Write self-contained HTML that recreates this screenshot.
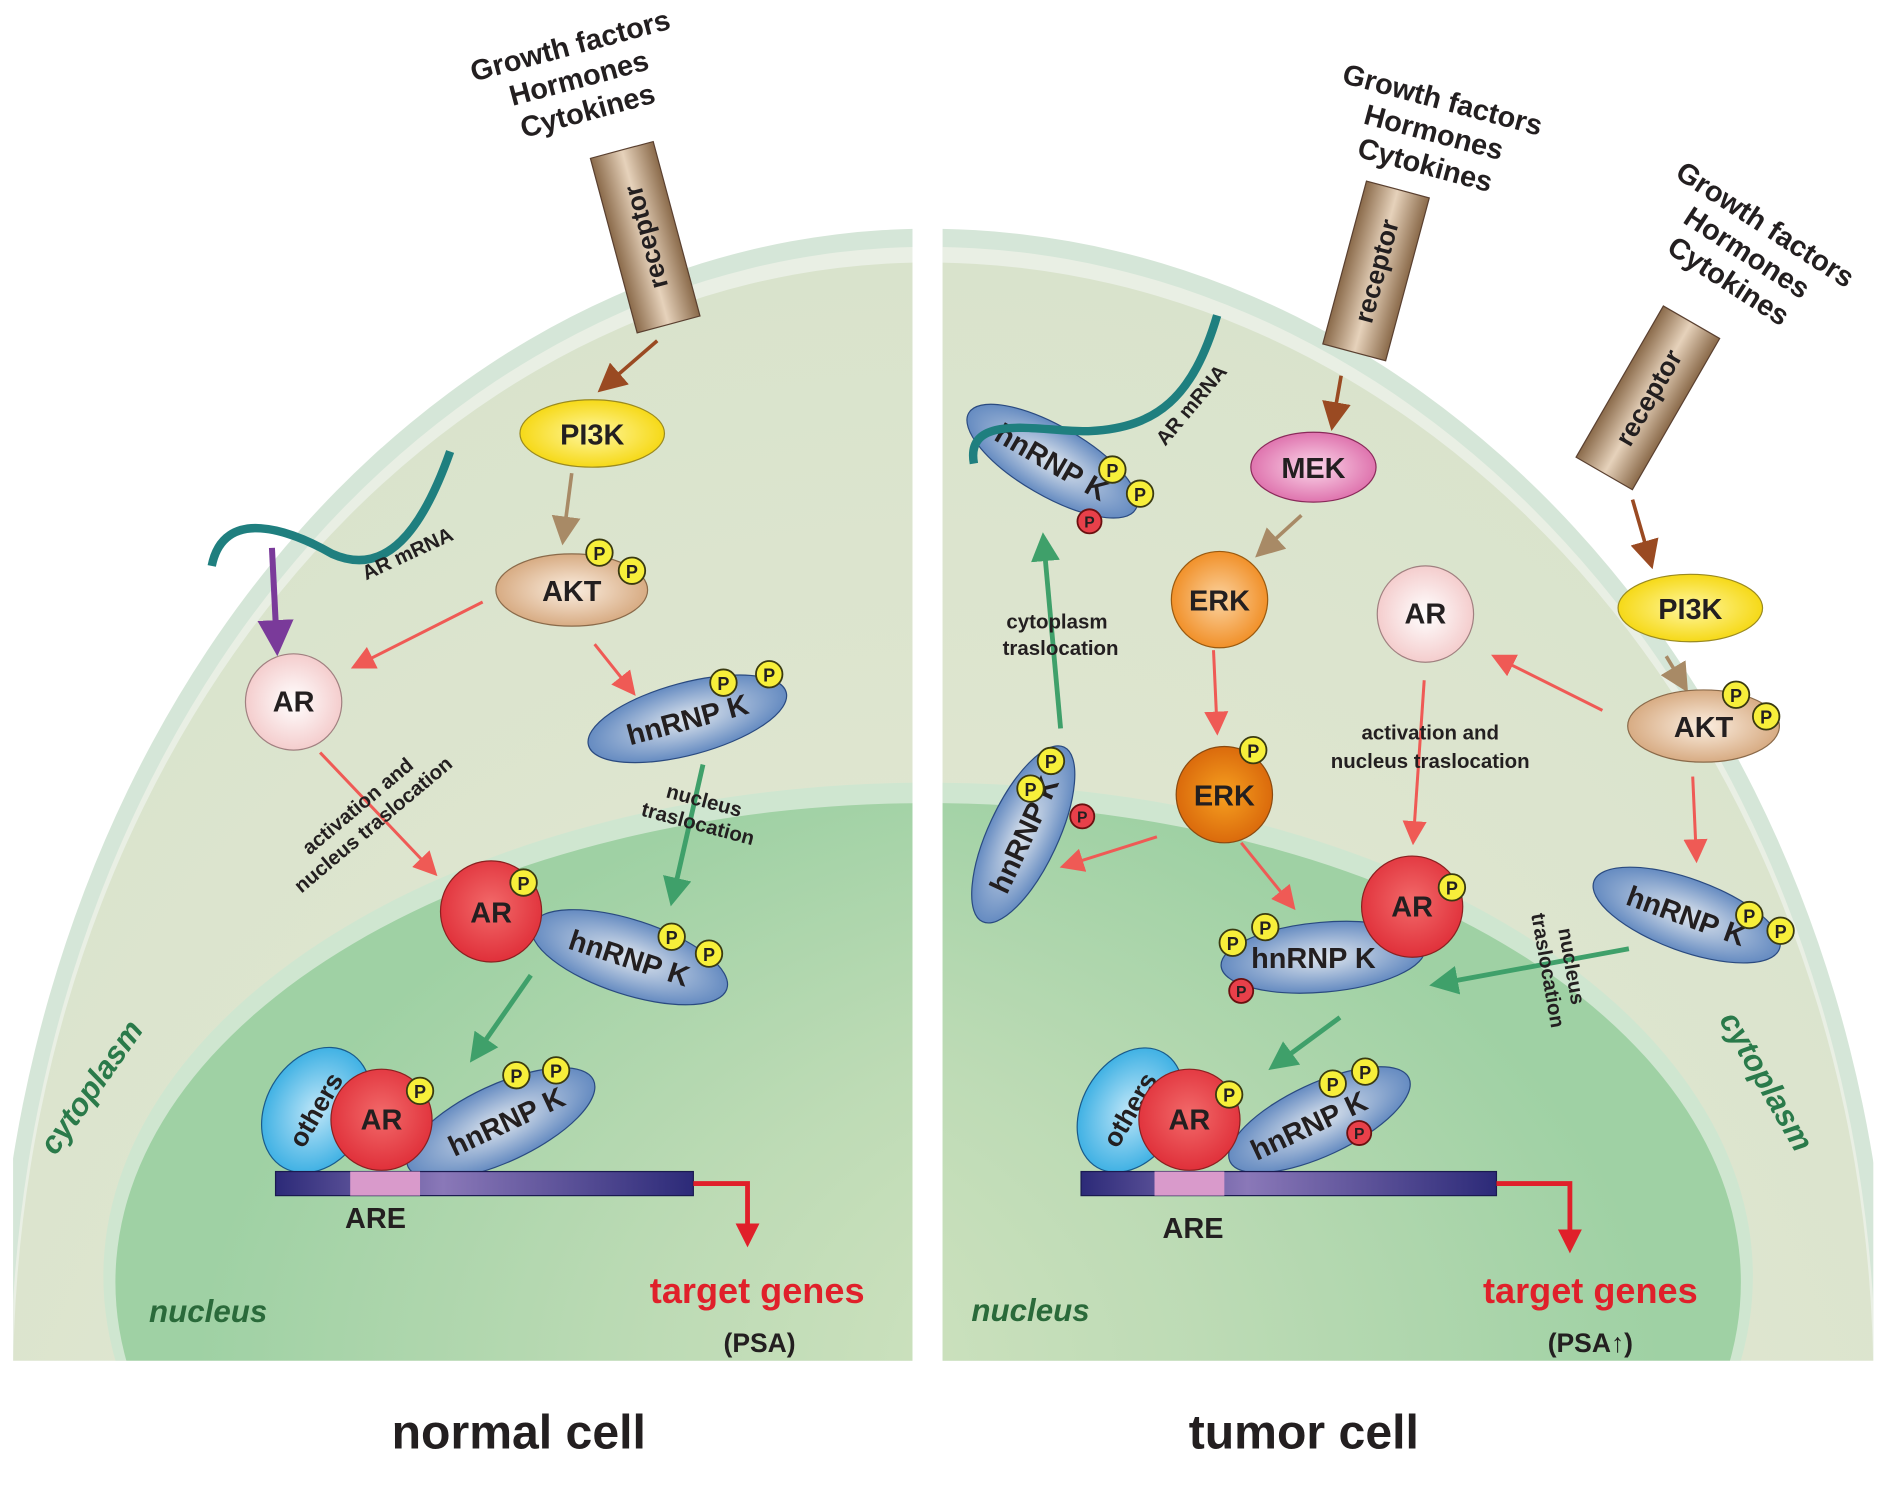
<!DOCTYPE html>
<html><head><meta charset="utf-8"><style>
html,body{margin:0;padding:0;background:#fff;overflow:hidden;width:1890px;height:1487px;}
#w{position:relative;width:1890px;height:1487px;overflow:hidden;}
svg{display:block;position:absolute;left:0;top:0;}
text{font-family:"Liberation Sans",Arial,sans-serif;font-weight:bold;fill:#231f20;}
</style></head><body><div id="w">
<svg width="1890" height="1487" viewBox="0 0 1568 1235" xmlns="http://www.w3.org/2000/svg">
<defs>
<radialGradient id="cyt" cx="0.5" cy="0.7" r="0.7"><stop offset="0" stop-color="#e8ead6"/><stop offset="1" stop-color="#d9e3cc"/></radialGradient>
<radialGradient id="nucL" cx="0.75" cy="0.6" r="0.7"><stop offset="0" stop-color="#dfe8c8"/><stop offset="0.6" stop-color="#bddbb5"/><stop offset="1" stop-color="#9fd1a4"/></radialGradient>
<radialGradient id="nucR" cx="0.25" cy="0.6" r="0.7"><stop offset="0" stop-color="#dfe8c8"/><stop offset="0.6" stop-color="#bddbb5"/><stop offset="1" stop-color="#9fd1a4"/></radialGradient>
<radialGradient id="blue" cx="0.5" cy="0.5" r="0.6"><stop offset="0" stop-color="#dfe6ee"/><stop offset="1" stop-color="#4d79b8"/></radialGradient>
<radialGradient id="red" cx="0.5" cy="0.45" r="0.55"><stop offset="0" stop-color="#f26a6a"/><stop offset="1" stop-color="#e0303a"/></radialGradient>
<radialGradient id="pale" cx="0.5" cy="0.5" r="0.55"><stop offset="0" stop-color="#fff"/><stop offset="1" stop-color="#f3c8c8"/></radialGradient>
<radialGradient id="yel" cx="0.5" cy="0.5" r="0.55"><stop offset="0" stop-color="#fff7a0"/><stop offset="1" stop-color="#f5d60a"/></radialGradient>
<radialGradient id="tan" cx="0.5" cy="0.5" r="0.55"><stop offset="0" stop-color="#fbeee0"/><stop offset="1" stop-color="#d4a57a"/></radialGradient>
<radialGradient id="pink" cx="0.5" cy="0.5" r="0.55"><stop offset="0" stop-color="#fbd7ea"/><stop offset="1" stop-color="#dc6aa8"/></radialGradient>
<radialGradient id="org" cx="0.5" cy="0.5" r="0.55"><stop offset="0" stop-color="#fbd3a0"/><stop offset="1" stop-color="#f08a1e"/></radialGradient>
<radialGradient id="dorg" cx="0.5" cy="0.5" r="0.55"><stop offset="0" stop-color="#f6a020"/><stop offset="1" stop-color="#d8650a"/></radialGradient>
<radialGradient id="oth" cx="0.5" cy="0.5" r="0.6"><stop offset="0" stop-color="#bfe6f8"/><stop offset="1" stop-color="#27a7e0"/></radialGradient>
<linearGradient id="rec" x1="0" x2="1"><stop offset="0" stop-color="#8a6a4a"/><stop offset="0.5" stop-color="#e6d2bb"/><stop offset="1" stop-color="#8a6a4a"/></linearGradient>
<linearGradient id="dna" x1="0" x2="1"><stop offset="0" stop-color="#2c2a78"/><stop offset="0.4" stop-color="#8a78b8"/><stop offset="1" stop-color="#2c2a78"/></linearGradient>
<marker id="aR" markerWidth="8" markerHeight="8" refX="6" refY="4" orient="auto" markerUnits="strokeWidth"><path d="M0,0 L8,4 L0,8 z" fill="#ef5a55"/></marker>
<marker id="aG" markerWidth="6" markerHeight="6" refX="4" refY="3" orient="auto" markerUnits="strokeWidth"><path d="M0,0 L6,3 L0,6 z" fill="#3fa06a"/></marker>
<marker id="aB" markerWidth="8" markerHeight="8" refX="6" refY="4" orient="auto" markerUnits="strokeWidth"><path d="M0,0 L8,4 L0,8 z" fill="#9a4a22"/></marker>
<marker id="aT" markerWidth="8" markerHeight="8" refX="6" refY="4" orient="auto" markerUnits="strokeWidth"><path d="M0,0 L8,4 L0,8 z" fill="#a88a66"/></marker>
<marker id="aP" markerWidth="6" markerHeight="6" refX="4" refY="3" orient="auto" markerUnits="strokeWidth"><path d="M0,0 L6,3 L0,6 z" fill="#7a3a9a"/></marker>
<marker id="aD" markerWidth="5" markerHeight="5" refX="3" refY="2.5" orient="auto" markerUnits="strokeWidth"><path d="M0,0 L5,2.5 L0,5 z" fill="#e0202a"/></marker>
<clipPath id="cL"><rect x="10" y="0" width="747" height="1130"/></clipPath>
<clipPath id="cR"><rect x="782" y="0" width="773" height="1130"/></clipPath>
</defs>

<g clip-path="url(#cL)">
<rect x="10" y="0" width="747" height="1130" fill="#fff"/>
<ellipse cx="770" cy="1150" rx="775" ry="960" fill="#d5e6d8"/>
<ellipse cx="770" cy="1150" rx="762" ry="945" fill="#e9efe4"/>
<ellipse cx="770" cy="1150" rx="760" ry="932" fill="url(#cyt)"/>
<ellipse cx="770" cy="1060" rx="685" ry="410" fill="#cfe6d0"/>
<ellipse cx="770" cy="1065" rx="675" ry="398" fill="url(#nucL)"/>
</g>
<g clip-path="url(#cR)">
<rect x="782" y="0" width="773" height="1130" fill="#fff"/>
<ellipse cx="770" cy="1150" rx="800" ry="960" fill="#d5e6d8"/>
<ellipse cx="770" cy="1150" rx="787" ry="945" fill="#e9efe4"/>
<ellipse cx="770" cy="1150" rx="785" ry="932" fill="url(#cyt)"/>
<ellipse cx="770" cy="1060" rx="685" ry="410" fill="#cfe6d0"/>
<ellipse cx="770" cy="1065" rx="675" ry="398" fill="url(#nucR)"/>
</g>

<g transform="rotate(-15 480 65)" font-size="24" text-anchor="middle">
<text x="480" y="45">Growth factors</text><text x="480" y="73">Hormones</text><text x="480" y="101">Cytokines</text></g>
<g transform="rotate(-15 535 197)"><rect x="508" y="122" width="54" height="150" fill="url(#rec)" stroke="#5a4030"/>
<text x="535" y="197" font-size="22" text-anchor="middle" transform="rotate(-90 535 197)" dy="8">receptor</text></g>
<line x1="545" y1="283" x2="500" y2="322" stroke="#9a4a22" stroke-width="3" marker-end="url(#aB)"/>
<ellipse cx="491" cy="360" rx="60" ry="28" fill="url(#yel)" stroke="#9a8a20"/><text x="491" y="369" font-size="24" text-anchor="middle">PI3K</text>
<line x1="474" y1="393" x2="467" y2="447" stroke="#a88a66" stroke-width="3" marker-end="url(#aT)"/>
<ellipse cx="474" cy="490" rx="63" ry="30" fill="url(#tan)" stroke="#8a6a4a"/><text x="474" y="499" font-size="24" text-anchor="middle">AKT</text>
<path d="M175,470 C185,420 240,440 275,460 C320,480 350,440 373,375" fill="none" stroke="#1f7f7f" stroke-width="7"/>
<text x="340" y="465" font-size="17" text-anchor="middle" transform="rotate(-25 340 465)">AR mRNA</text>
<line x1="225" y1="455" x2="229" y2="535" stroke="#7a3a9a" stroke-width="5" marker-end="url(#aP)"/>
<line x1="400" y1="500" x2="295" y2="553" stroke="#ef5a55" stroke-width="2.5" marker-end="url(#aR)"/>
<line x1="493" y1="535" x2="524" y2="574" stroke="#ef5a55" stroke-width="2.5" marker-end="url(#aR)"/>
<circle cx="243" cy="583" r="40" fill="url(#pale)" stroke="#a08080"/><text x="243" y="591" font-size="24" text-anchor="middle">AR</text>
<g transform="rotate(-15 570 597)"><ellipse cx="570" cy="597" rx="85" ry="30" fill="url(#blue)" stroke="#2a4a80"/><text x="570" y="606" font-size="24" text-anchor="middle">hnRNP K</text></g>
<line x1="265" y1="625" x2="359" y2="724" stroke="#ef5a55" stroke-width="2.5" marker-end="url(#aR)"/>
<g transform="rotate(-40 305 680)" font-size="17" text-anchor="middle"><text x="305" y="672">activation  and</text><text x="305" y="692">nucleus traslocation</text></g>
<line x1="583" y1="635" x2="558" y2="745" stroke="#3fa06a" stroke-width="4" marker-end="url(#aG)"/>
<g transform="rotate(15 580 680)" font-size="17" text-anchor="middle"><text x="580" y="670">nucleus</text><text x="580" y="690">traslocation</text></g>
<g transform="rotate(18 522 795)"><ellipse cx="522" cy="795" rx="85" ry="31" fill="url(#blue)" stroke="#2a4a80"/><text x="522" y="804" font-size="24" text-anchor="middle">hnRNP K</text></g>
<circle cx="407" cy="757" r="42" fill="url(#red)" stroke="#8a2020"/><text x="407" y="766" font-size="24" text-anchor="middle">AR</text>
<line x1="440" y1="810" x2="394" y2="876" stroke="#3fa06a" stroke-width="4" marker-end="url(#aG)"/>
<g transform="rotate(-60 262 922)"><ellipse cx="262" cy="922" rx="55" ry="42" fill="url(#oth)" stroke="#1a5a8a"/><text x="262" y="929" font-size="22" text-anchor="middle">others</text></g>
<g transform="rotate(-25 415 933)"><ellipse cx="415" cy="933" rx="85" ry="32" fill="url(#blue)" stroke="#2a4a80"/><text x="420" y="942" font-size="24" text-anchor="middle">hnRNP K</text></g>
<circle cx="316" cy="930" r="42" fill="url(#red)" stroke="#8a2020"/><text x="316" y="938" font-size="24" text-anchor="middle">AR</text>
<rect x="228" y="973" width="347" height="20" fill="url(#dna)" stroke="#1a1a50"/><rect x="290" y="973" width="58" height="20" fill="#d99acb"/>
<text x="311" y="1020" font-size="24" text-anchor="middle">ARE</text>
<polyline points="575,983 620,983 620,1028" fill="none" stroke="#e0202a" stroke-width="4" marker-end="url(#aD)"/>
<text x="628" y="1082" font-size="30" text-anchor="middle" style="fill:#e0202a">target genes</text>
<text x="630" y="1123" font-size="22" text-anchor="middle">(PSA)</text>
<text x="78" y="910" font-size="26" text-anchor="middle" font-style="italic" style="fill:#2a7a4a" transform="rotate(-55 78 905)">cytoplasm</text>
<text x="172" y="1098" font-size="26" text-anchor="middle" font-style="italic" style="fill:#2a6a3a">nucleus</text>
<text x="430" y="1203" font-size="40" text-anchor="middle">normal cell</text>

<g transform="rotate(15 1190 110)" font-size="24" text-anchor="middle">
<text x="1190" y="90">Growth factors</text><text x="1190" y="118">Hormones</text><text x="1190" y="146">Cytokines</text></g>
<g transform="rotate(15 1142 225)"><rect x="1115" y="155" width="54" height="140" fill="url(#rec)" stroke="#5a4030"/>
<text x="1142" y="225" font-size="22" text-anchor="middle" transform="rotate(-90 1142 225)" dy="8">receptor</text></g>
<g transform="rotate(33 1450 210)" font-size="24" text-anchor="middle">
<text x="1450" y="190">Growth factors</text><text x="1450" y="218">Hormones</text><text x="1450" y="246">Cytokines</text></g>
<g transform="rotate(30 1368 330)"><rect x="1341" y="258" width="54" height="145" fill="url(#rec)" stroke="#5a4030"/>
<text x="1368" y="330" font-size="22" text-anchor="middle" transform="rotate(-90 1368 330)" dy="8">receptor</text></g>
<line x1="1113" y1="312" x2="1106" y2="352" stroke="#9a4a22" stroke-width="3" marker-end="url(#aB)"/>
<ellipse cx="1090" cy="388" rx="52" ry="29" fill="url(#pink)" stroke="#8a2a5a"/><text x="1090" y="397" font-size="24" text-anchor="middle">MEK</text>
<line x1="1080" y1="428" x2="1046" y2="459" stroke="#a88a66" stroke-width="3" marker-end="url(#aT)"/>
<circle cx="1012" cy="498" r="40" fill="url(#org)" stroke="#9a5a10"/><text x="1012" y="507" font-size="24" text-anchor="middle">ERK</text>
<line x1="1007" y1="540" x2="1010" y2="606" stroke="#ef5a55" stroke-width="2.5" marker-end="url(#aR)"/>
<circle cx="1016" cy="660" r="40" fill="url(#dorg)" stroke="#8a4a10"/><text x="1016" y="669" font-size="24" text-anchor="middle">ERK</text>
<line x1="960" y1="695" x2="884" y2="719" stroke="#ef5a55" stroke-width="2.5" marker-end="url(#aR)"/>
<line x1="1030" y1="700" x2="1072" y2="752" stroke="#ef5a55" stroke-width="2.5" marker-end="url(#aR)"/>
<g transform="rotate(30 873 383)"><ellipse cx="873" cy="383" rx="80" ry="29" fill="url(#blue)" stroke="#2a4a80"/><text x="873" y="392" font-size="24" text-anchor="middle">hnRNP K</text></g>
<path d="M808,385 C800,340 870,360 905,358 C960,355 990,330 1010,262" fill="none" stroke="#1f7f7f" stroke-width="7"/>
<text x="993" y="340" font-size="17" text-anchor="middle" transform="rotate(-50 993 340)">AR mRNA</text>
<line x1="880" y1="605" x2="866" y2="450" stroke="#3fa06a" stroke-width="4" marker-end="url(#aG)"/>
<g font-size="17" text-anchor="middle"><text x="877" y="522">cytoplasm</text><text x="880" y="544">traslocation</text></g>
<g transform="rotate(-65 849 693)"><ellipse cx="849" cy="693" rx="80" ry="29" fill="url(#blue)" stroke="#2a4a80"/><text x="849" y="702" font-size="24" text-anchor="middle">hnRNP K</text></g>
<circle cx="1183" cy="510" r="40" fill="url(#pale)" stroke="#a08080"/><text x="1183" y="518" font-size="24" text-anchor="middle">AR</text>
<line x1="1330" y1="590" x2="1242" y2="546" stroke="#ef5a55" stroke-width="2.5" marker-end="url(#aR)"/>
<line x1="1182" y1="565" x2="1173" y2="697" stroke="#ef5a55" stroke-width="2.5" marker-end="url(#aR)"/>
<g font-size="17" text-anchor="middle"><text x="1187" y="614">activation  and</text><text x="1187" y="638">nucleus traslocation</text></g>
<ellipse cx="1403" cy="505" rx="60" ry="28" fill="url(#yel)" stroke="#9a8a20"/><text x="1403" y="514" font-size="24" text-anchor="middle">PI3K</text>
<line x1="1355" y1="415" x2="1370" y2="467" stroke="#9a4a22" stroke-width="3" marker-end="url(#aB)"/>
<line x1="1383" y1="545" x2="1398" y2="570" stroke="#a88a66" stroke-width="3" marker-end="url(#aT)"/>
<ellipse cx="1414" cy="603" rx="63" ry="30" fill="url(#tan)" stroke="#8a6a4a"/><text x="1414" y="612" font-size="24" text-anchor="middle">AKT</text>
<line x1="1405" y1="645" x2="1408" y2="712" stroke="#ef5a55" stroke-width="2.5" marker-end="url(#aR)"/>
<g transform="rotate(20 1400 760)"><ellipse cx="1400" cy="760" rx="82" ry="30" fill="url(#blue)" stroke="#2a4a80"/><text x="1400" y="769" font-size="24" text-anchor="middle">hnRNP K</text></g>
<line x1="1352" y1="788" x2="1194" y2="817" stroke="#3fa06a" stroke-width="4" marker-end="url(#aG)"/>
<g transform="rotate(80 1290 805)" font-size="17" text-anchor="middle"><text x="1290" y="796">nucleus</text><text x="1290" y="816">traslocation</text></g>
<ellipse cx="1098" cy="795" rx="85" ry="29" fill="url(#blue)" stroke="#2a4a80" transform="rotate(-5 1098 795)"/><text x="1090" y="804" font-size="24" text-anchor="middle">hnRNP K</text>
<circle cx="1172" cy="753" r="42" fill="url(#red)" stroke="#8a2020"/><text x="1172" y="761" font-size="24" text-anchor="middle">AR</text>
<line x1="1112" y1="845" x2="1059" y2="884" stroke="#3fa06a" stroke-width="4" marker-end="url(#aG)"/>
<g transform="rotate(-60 938 922)"><ellipse cx="938" cy="922" rx="55" ry="40" fill="url(#oth)" stroke="#1a5a8a"/><text x="938" y="929" font-size="22" text-anchor="middle">others</text></g>
<g transform="rotate(-25 1095 930)"><ellipse cx="1095" cy="930" rx="82" ry="30" fill="url(#blue)" stroke="#2a4a80"/><text x="1085" y="939" font-size="24" text-anchor="middle">hnRNP K</text></g>
<circle cx="987" cy="930" r="42" fill="url(#red)" stroke="#8a2020"/><text x="987" y="938" font-size="24" text-anchor="middle">AR</text>
<rect x="897" y="973" width="345" height="20" fill="url(#dna)" stroke="#1a1a50"/><rect x="958" y="973" width="58" height="20" fill="#d99acb"/>
<text x="990" y="1028" font-size="24" text-anchor="middle">ARE</text>
<polyline points="1242,983 1303,983 1303,1033" fill="none" stroke="#e0202a" stroke-width="4" marker-end="url(#aD)"/>
<text x="1320" y="1082" font-size="30" text-anchor="middle" style="fill:#e0202a">target genes</text>
<text x="1320" y="1123" font-size="22" text-anchor="middle">(PSA↑)</text>
<text x="1463" y="905" font-size="26" text-anchor="middle" font-style="italic" style="fill:#2a7a4a" transform="rotate(60 1463 900)">cytoplasm</text>
<text x="855" y="1097" font-size="26" text-anchor="middle" font-style="italic" style="fill:#2a6a3a">nucleus</text>
<text x="1082" y="1203" font-size="40" text-anchor="middle">tumor cell</text>

<g fill="#f7ef3a" stroke="#3a3a10" stroke-width="1.5">
<circle cx="497" cy="459" r="11"/><circle cx="524" cy="474" r="11"/>
<circle cx="600" cy="567" r="11"/><circle cx="638" cy="560" r="11"/>
<circle cx="434" cy="733" r="11"/><circle cx="557" cy="778" r="11"/><circle cx="588" cy="792" r="11"/>
<circle cx="348" cy="906" r="11"/><circle cx="428" cy="893" r="11"/><circle cx="461" cy="889" r="11"/>
<circle cx="923" cy="390" r="11"/><circle cx="946" cy="410" r="11"/>
<circle cx="872" cy="632" r="11"/><circle cx="855" cy="655" r="11"/>
<circle cx="1040" cy="623" r="11"/>
<circle cx="1441" cy="577" r="11"/><circle cx="1466" cy="595" r="11"/>
<circle cx="1452" cy="760" r="11"/><circle cx="1478" cy="773" r="11"/>
<circle cx="1205" cy="737" r="11"/><circle cx="1023" cy="783" r="11"/><circle cx="1050" cy="770" r="11"/>
<circle cx="1020" cy="909" r="11"/><circle cx="1106" cy="900" r="11"/><circle cx="1133" cy="890" r="11"/>
</g>
<g fill="#e8404a" stroke="#6a1010" stroke-width="1.5">
<circle cx="904" cy="433" r="10"/><circle cx="898" cy="678" r="10"/><circle cx="1030" cy="823" r="10"/><circle cx="1128" cy="941" r="10"/>
</g>
<g font-size="15" text-anchor="middle">
<text x="497" y="465">P</text><text x="524" y="480">P</text><text x="600" y="573">P</text><text x="638" y="566">P</text>
<text x="434" y="739">P</text><text x="557" y="784">P</text><text x="588" y="798">P</text>
<text x="348" y="912">P</text><text x="428" y="899">P</text><text x="461" y="895">P</text>
<text x="923" y="396">P</text><text x="946" y="416">P</text><text x="872" y="638">P</text><text x="855" y="661">P</text>
<text x="1040" y="629">P</text><text x="1441" y="583">P</text><text x="1466" y="601">P</text>
<text x="1452" y="766">P</text><text x="1478" y="779">P</text><text x="1205" y="743">P</text>
<text x="1023" y="789">P</text><text x="1050" y="776">P</text><text x="1020" y="915">P</text><text x="1106" y="906">P</text><text x="1133" y="896">P</text>
<text x="904" y="438" font-size="13">P</text><text x="898" y="683" font-size="13">P</text><text x="1030" y="828" font-size="13">P</text><text x="1128" y="946" font-size="13">P</text>
</g>
</svg>
</div></body></html>
